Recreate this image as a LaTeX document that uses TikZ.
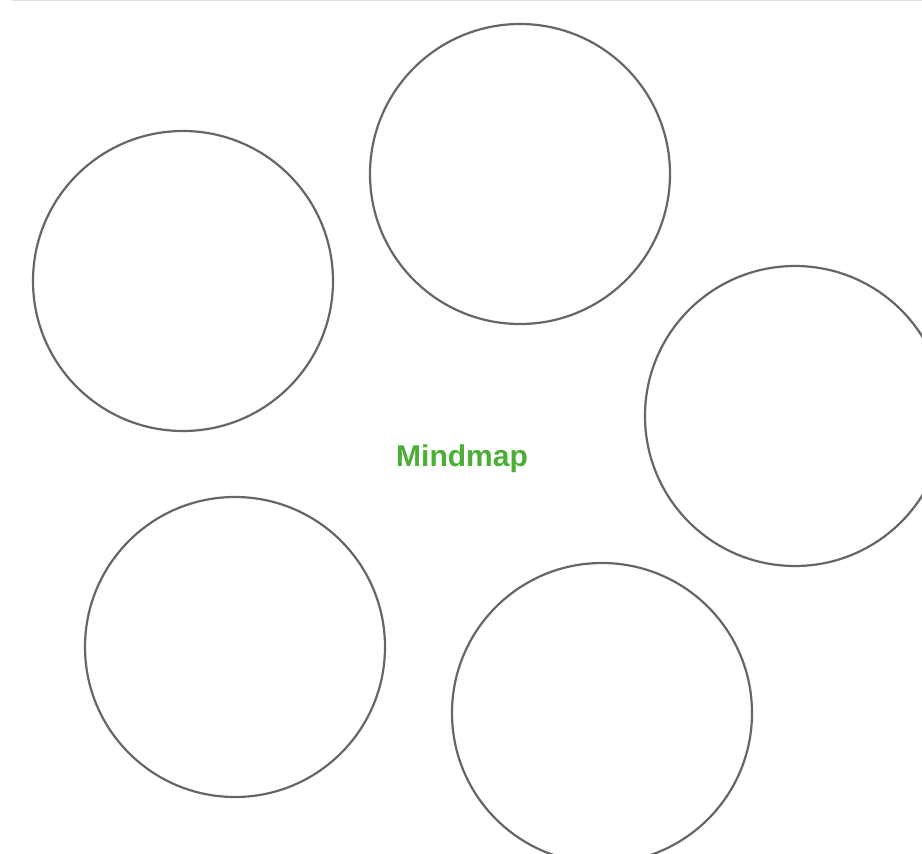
\documentclass[tikz,border=0pt]{standalone}
\usepackage{fontspec}
\setmainfont{Liberation Sans}
\begin{document}
\begin{tikzpicture}[x=1pt,y=-1pt,
  bubble/.style={draw=black!60,line width=2.2pt,circle,minimum size=300pt,inner sep=0pt},
  titletext/.style={font=\fontsize{30}{34}\selectfont\bfseries,text=mmgreen}]
\definecolor{mmgreen}{HTML}{4CAF35}
\useasboundingbox (0,0) rectangle (922,854);
\begin{scope}
\clip (0,0) rectangle (922,854);
\draw[draw=black!12,line width=1pt] (12,0.5) coordinate (ls) -- (922,0.5) coordinate (le);
\node[bubble] (c1) at (183,281) {};
\node[bubble] (c2) at (520,174) {};
\node[bubble] (c3) at (795,416) {};
\node[bubble] (c4) at (235,647) {};
\node[bubble] (c5) at (602,713) {};
\node[titletext] (t) at (462,459) {Mindmap};
\end{scope}
\end{tikzpicture}
\end{document}
